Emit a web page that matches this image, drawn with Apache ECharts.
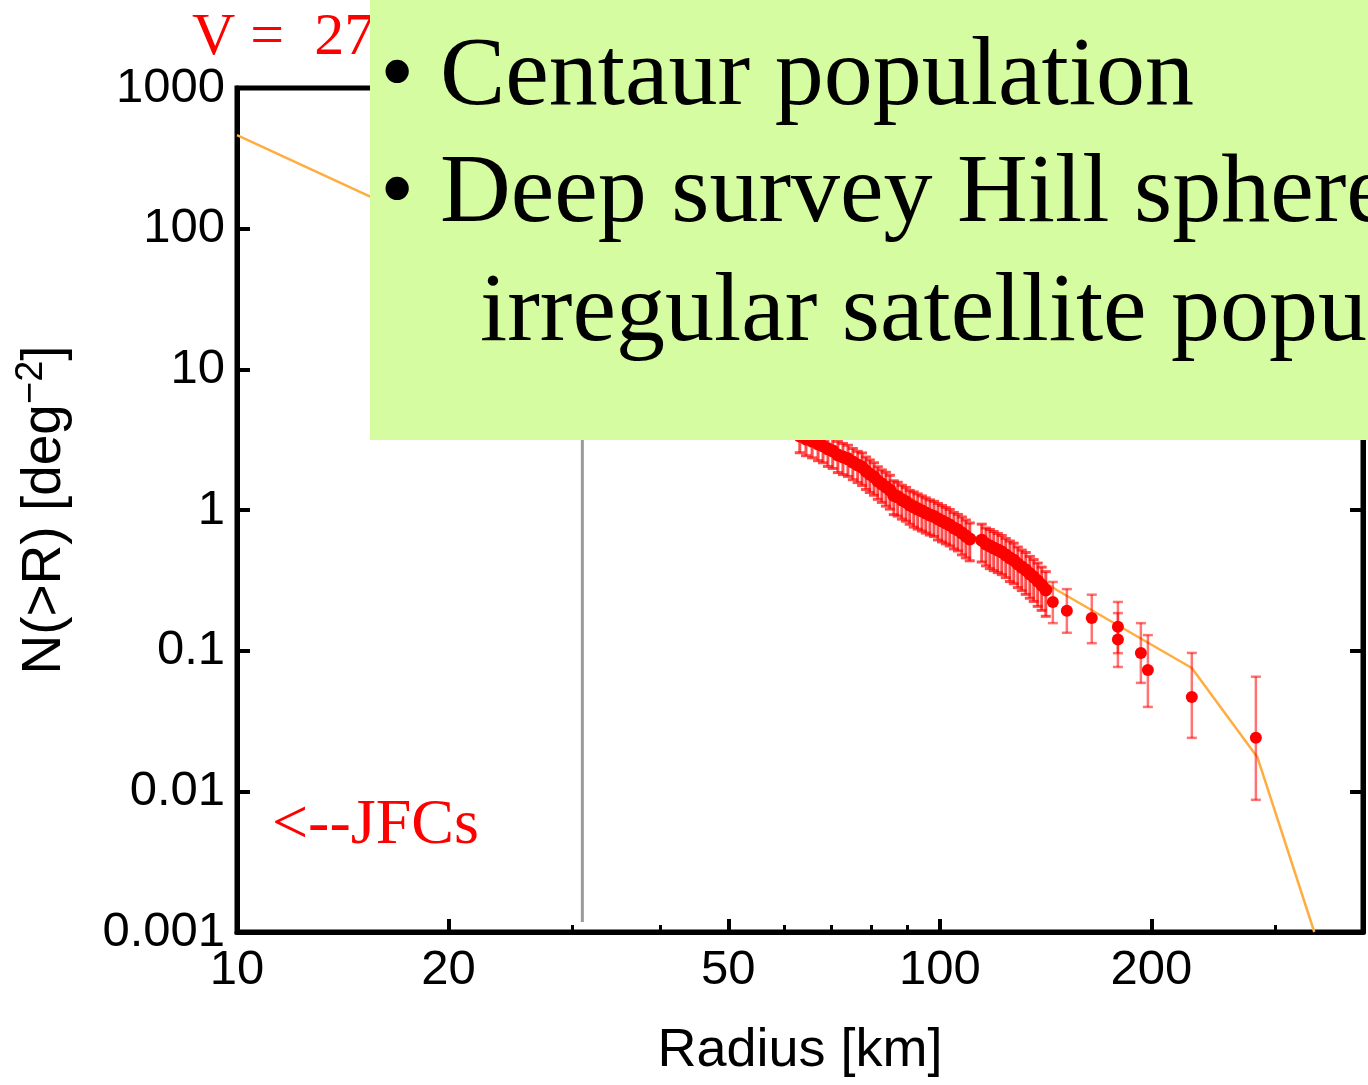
<!DOCTYPE html>
<html>
<head>
<meta charset="utf-8">
<script src="https://cdn.jsdelivr.net/npm/echarts@6/dist/echarts.min.js"></script>
<style>
  html, body { margin: 0; padding: 0; background: #fff; }
  #chart { width: 1368px; height: 1085px; }
</style>
</head>
<body>
<div id="chart"></div>
<script>
// ---- axis ticks / labels ----
const radiusTickLabels = [10, 20, 50, 100, 200];
const radiusMajorTicks = [20, 50, 100, 200];
const radiusMinorTicks = [30, 40, 60, 70, 80, 90, 300];
const densityTicks = [0.001, 0.01, 0.1, 1, 10, 100, 1000];
const densityTickLabels = ['0.001', '0.01', '0.1', '1', '10', '100', '1000'];

// ---- dense cumulative data (Radius km, N(>R) deg^-2, fractional error) ----
const cloudRadius = [63.2, 64.5, 65.8, 67.1, 68.2, 69.3, 70.4, 71.6, 72.8, 74.0,
  75.2, 76.4, 77.5, 78.5, 79.5, 80.6, 81.6, 82.7, 83.8, 84.9,
  86.0, 87.1, 88.3, 89.5, 90.6, 91.8, 93.0, 94.3, 95.5, 96.8,
  98.1, 99.4, 100.7, 102.0, 103.3, 104.7, 106.1, 107.5, 108.9, 110.3,
  114.7, 116.3, 117.8, 119.3, 120.9, 122.5, 124.1, 125.8, 127.4, 129.1,
  130.8, 132.5, 134.3, 136.0, 137.8, 139.6, 141.5];
const cloudN = [3.36, 3.20, 3.09, 2.95, 2.85, 2.72, 2.63, 2.46, 2.38, 2.31,
  2.19, 2.09, 2.02, 1.89, 1.80, 1.72, 1.61, 1.53, 1.46, 1.39,
  1.27, 1.24, 1.18, 1.14, 1.085, 1.05, 1.016, 0.984, 0.952, 0.922,
  0.90, 0.863, 0.835, 0.808, 0.782, 0.745, 0.721, 0.686, 0.653, 0.622,
  0.610, 0.573, 0.555, 0.537, 0.520, 0.503, 0.479, 0.456, 0.440, 0.413,
  0.393, 0.375, 0.352, 0.334, 0.313, 0.293, 0.270];
const cloudErr = [0.24, 0.24, 0.24, 0.24, 0.24, 0.25, 0.25, 0.25, 0.25, 0.25,
  0.25, 0.25, 0.26, 0.26, 0.26, 0.26, 0.26, 0.26, 0.27, 0.27,
  0.27, 0.27, 0.27, 0.27, 0.27, 0.28, 0.28, 0.28, 0.28, 0.28,
  0.28, 0.29, 0.29, 0.29, 0.29, 0.29, 0.29, 0.3, 0.3, 0.3,
  0.3, 0.3, 0.31, 0.31, 0.31, 0.31, 0.31, 0.32, 0.32, 0.32,
  0.32, 0.33, 0.33, 0.33, 0.34, 0.34, 0.35];

// ---- sparse large-radius points with error bars ----
const discreteRadius = [144.8, 151.6, 164.5, 179.2, 179.2, 193.2, 197.7, 228.3, 281.6];
const discreteN      = [0.222, 0.192, 0.171, 0.148, 0.120, 0.0964, 0.073, 0.0469, 0.024];
const discreteLo     = [0.157, 0.134, 0.113, 0.096, 0.0766, 0.059, 0.0398, 0.024, 0.0087];
const discreteHi     = [0.308, 0.274, 0.250, 0.222, 0.185, 0.157, 0.129, 0.0964, 0.0653];

// ---- model fit (orange) ----
const fitRadius = [10, 15.5, 40, 66.9, 90.6, 114, 146.7, 228.3, 283, 341];
const fitN      = [463, 168, 18.3, 3.0, 1.22, 0.612, 0.27, 0.0753, 0.0175, 0.001];

// ---- completeness limit (gray vertical) ----
const limitRadius = [31, 31];
const limitN = [0.00118, 1000];

// build data
const cloudPts = cloudRadius.map((r, i) => [r, cloudN[i]]);
const cloudBars = cloudRadius.map((r, i) => [r, cloudN[i] * (1 - cloudErr[i]), cloudN[i] * (1 + cloudErr[i])]);
const discretePts = discreteRadius.map((r, i) => [r, discreteN[i]]);
const discreteBars = discreteRadius.map((r, i) => [r, discreteLo[i], discreteHi[i]]);
const fitPts = fitRadius.map((r, i) => [r, fitN[i]]);
const limitPts = limitRadius.map((r, i) => [r, limitN[i]]);

function makeErrRender(color, lw) {
  return function (params, api) {
    const x = api.value(0), lo = api.value(1), hi = api.value(2);
    const pLo = api.coord([x, lo]), pHi = api.coord([x, hi]);
    const cw = 5;
    const st = { stroke: color, lineWidth: lw };
    return {
      type: 'group',
      children: [
        { type: 'line', shape: { x1: pLo[0], y1: pLo[1], x2: pHi[0], y2: pHi[1] }, style: st },
        { type: 'line', shape: { x1: pLo[0] - cw, y1: pLo[1], x2: pLo[0] + cw, y2: pLo[1] }, style: st },
        { type: 'line', shape: { x1: pHi[0] - cw, y1: pHi[1], x2: pHi[0] + cw, y2: pHi[1] }, style: st }
      ]
    };
  };
}

function densityLabel(v) {
  const k = Math.round(Math.log10(v)) + 3;
  return densityTickLabels[k] !== undefined ? densityTickLabels[k] : '';
}

const SANS = '"Liberation Sans", Arial, Helvetica, sans-serif';
const SERIF = '"Liberation Serif", "Times New Roman", serif';

const chart = echarts.init(document.getElementById('chart'), null, { renderer: 'canvas' });
chart.setOption({
  animation: false,
  backgroundColor: '#fff',
  grid: {
    left: 237, top: 88, right: 5, bottom: 153,
    show: true, borderColor: '#000', borderWidth: 5,
    containLabel: false, outerBoundsMode: 'none'
  },
  xAxis: [
    {
      type: 'log', logBase: 10, min: 10, max: 400, position: 'bottom',
      axisLine: { show: true, lineStyle: { color: '#000', width: 5 } },
      axisTick: { show: true, inside: true, length: 13, lineStyle: { color: '#000', width: 4 }, customValues: radiusMajorTicks },
      axisLabel: { show: true, customValues: radiusTickLabels, fontSize: 49, fontFamily: SANS, color: '#000', margin: 14,
        formatter: v => String(Math.round(v)) },
      splitLine: { show: false }, minorTick: { show: false },
      name: 'Radius [km]', nameLocation: 'middle', nameGap: 92,
      nameTextStyle: { fontSize: 54, fontFamily: SANS, color: '#000' }
    },
    {
      type: 'log', logBase: 10, min: 10, max: 400, position: 'bottom',
      axisLine: { show: false },
      axisTick: { show: true, inside: true, length: 7, lineStyle: { color: '#000', width: 3 }, customValues: radiusMinorTicks },
      axisLabel: { show: false }, splitLine: { show: false }
    }
  ],
  yAxis: [
    {
      type: 'log', logBase: 10, min: 0.001, max: 1000, position: 'left',
      axisLine: { show: true, lineStyle: { color: '#000', width: 5 } },
      axisTick: { show: true, inside: true, length: 13, lineStyle: { color: '#000', width: 4 }, customValues: densityTicks },
      axisLabel: { show: true, customValues: densityTicks, fontSize: 49, fontFamily: SANS, color: '#000', margin: 12,
        formatter: densityLabel },
      splitLine: { show: false },
      name: 'N(>R) [deg{sup|−2}]', nameLocation: 'middle', nameGap: 160, nameRotate: 90,
      nameTextStyle: { fontSize: 55, fontFamily: SANS, color: '#000', lineHeight: 64,
        rich: { sup: { fontSize: 38, fontFamily: SANS, color: '#000', verticalAlign: 'top', lineHeight: 64, padding: [0, 0, 18, 0] } } }
    },
    {
      type: 'log', logBase: 10, min: 0.001, max: 1000, position: 'right',
      axisLine: { show: true, lineStyle: { color: '#000', width: 5 } },
      axisTick: { show: true, inside: true, length: 13, lineStyle: { color: '#000', width: 4 }, customValues: densityTicks },
      axisLabel: { show: false }, splitLine: { show: false }
    }
  ],
  series: [
    {
      name: 'limit', type: 'line', data: limitPts, xAxisIndex: 0, yAxisIndex: 0,
      showSymbol: false, symbol: 'none', lineStyle: { color: '#9a9a9a', width: 3 }, z: 1, silent: true
    },
    {
      name: 'fit', type: 'line', data: fitPts, xAxisIndex: 0, yAxisIndex: 0,
      showSymbol: false, symbol: 'none', lineStyle: { color: '#ffad40', width: 2.5 }, z: 2, clip: true, silent: true
    },
    {
      name: 'cloudErr', type: 'custom', data: cloudBars, renderItem: makeErrRender('rgba(255,0,0,0.7)', 3),
      encode: { x: 0, y: [1, 2] }, z: 3, clip: true, silent: true
    },
    {
      name: 'discreteErr', type: 'custom', data: discreteBars, renderItem: makeErrRender('rgba(255,0,0,0.55)', 2.5),
      encode: { x: 0, y: [1, 2] }, z: 3, clip: true, silent: true
    },
    {
      name: 'cloud', type: 'scatter', data: cloudPts, symbolSize: 13,
      itemStyle: { color: '#ff0000', opacity: 1 }, z: 4, silent: true
    },
    {
      name: 'discrete', type: 'scatter', data: discretePts, symbolSize: 12,
      itemStyle: { color: '#ff0000', opacity: 1 }, z: 4, silent: true
    }
  ],
  graphic: {
    elements: [
      { type: 'text', x: 192, y: 38, z: 50,
        style: { text: 'V =  27', font: '60px ' + SERIF, fill: '#ff0000', textAlign: 'left', textVerticalAlign: 'middle' } },
      { type: 'text', x: 272, y: 826, z: 50,
        style: { text: '<--JFCs', font: '64px ' + SERIF, fill: '#ff0000', textAlign: 'left', textVerticalAlign: 'middle' } },
      { type: 'rect', z: 100, shape: { x: 370, y: 0, width: 1000, height: 440 }, style: { fill: '#d5fca1' } },
      { type: 'text', x: 380, y: 78, z: 101,
        style: { text: '•', font: '98px ' + SERIF, fill: '#000', textAlign: 'left', textVerticalAlign: 'middle' } },
      { type: 'text', x: 440, y: 78, z: 101,
        style: { text: 'Centaur population', font: '98px ' + SERIF, fill: '#000', textAlign: 'left', textVerticalAlign: 'middle' } },
      { type: 'text', x: 380, y: 195, z: 101,
        style: { text: '•', font: '98px ' + SERIF, fill: '#000', textAlign: 'left', textVerticalAlign: 'middle' } },
      { type: 'text', x: 440, y: 195, z: 101,
        style: { text: 'Deep survey Hill spheres', font: '98px ' + SERIF, fill: '#000', textAlign: 'left', textVerticalAlign: 'middle' } },
      { type: 'text', x: 480, y: 314, z: 101,
        style: { text: 'irregular satellite populations', font: '98px ' + SERIF, fill: '#000', textAlign: 'left', textVerticalAlign: 'middle' } }
    ]
  }
});
</script>
</body>
</html>
